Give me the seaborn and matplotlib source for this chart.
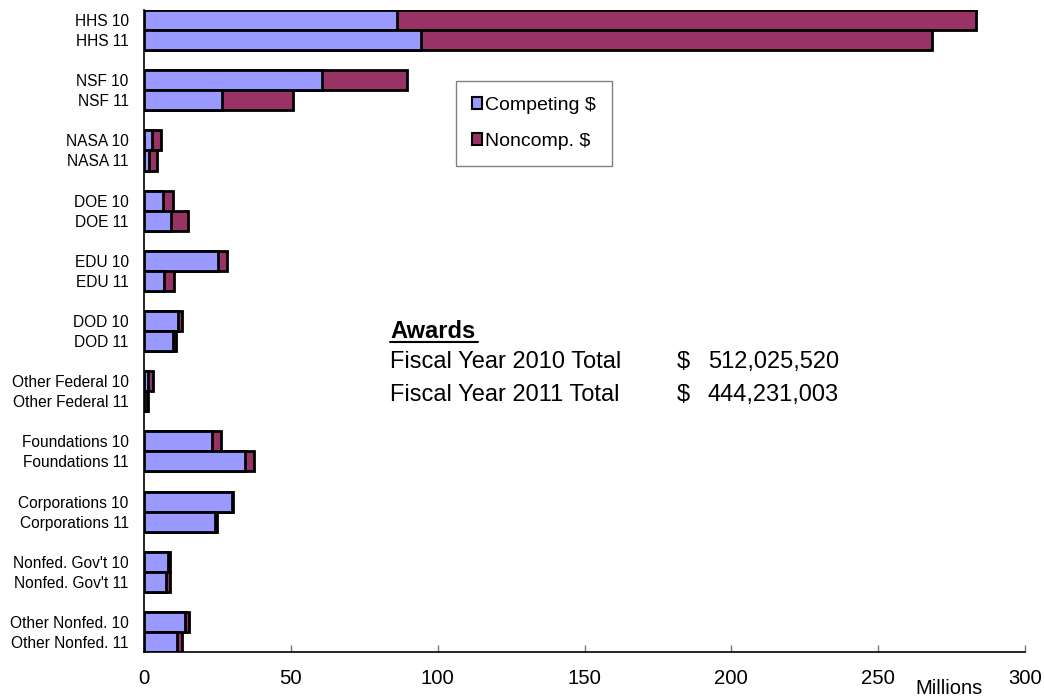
import pandas as pd
import matplotlib
matplotlib.use("Agg")
import matplotlib.pyplot as plt
from matplotlib.lines import Line2D
from matplotlib.patches import Patch
import seaborn as sns

# award values, millions of dollars
labels = ["HHS 10", "HHS 11", "NSF 10", "NSF 11", "NASA 10", "NASA 11",
          "DOE 10", "DOE 11", "EDU 10", "EDU 11", "DOD 10", "DOD 11",
          "Other Federal 10", "Other Federal 11", "Foundations 10", "Foundations 11",
          "Corporations 10", "Corporations 11", "Nonfed. Gov't 10", "Nonfed. Gov't 11",
          "Other Nonfed. 10", "Other Nonfed. 11"]
competing = [86.2, 94.3, 60.5, 26.7, 2.8, 1.7, 6.4, 9.2, 25.1, 6.9, 11.7, 10.0,
             1.5, 0.9, 23.3, 34.4, 29.9, 24.2, 8.3, 7.6, 14.0, 11.1]
noncomp = [197.2, 174.1, 28.9, 24.2, 2.9, 2.6, 3.6, 5.7, 3.1, 3.3, 1.4, 0.9,
           1.4, 0.6, 2.9, 3.2, 0.4, 0.5, 0.7, 1.4, 1.4, 2.0]
x_ticks = [0, 50, 100, 150, 200, 250, 300]

blue = "#9999FF"
maroon = "#993366"

df = pd.DataFrame({"label": labels, "competing": competing, "noncomp": noncomp})
df["total"] = df["competing"] + df["noncomp"]
# two bars per agency, then a gap
df["pos"] = [3 * (i // 2) + i % 2 for i in range(len(df))]

sns.set_theme(style="white")
plt.rcParams["font.family"] = ["Liberation Sans", "DejaVu Sans"]
plt.rcParams["text.color"] = "black"
plt.rcParams["xtick.color"] = "black"
plt.rcParams["ytick.color"] = "black"

fig = plt.figure(figsize=(10.44, 7), dpi=100)
ax = fig.add_axes([144 / 1044, 1 - 652 / 700, (1025 - 144) / 1044, 642 / 700])

sns.barplot(data=df, x="total", y="pos", orient="h", native_scale=True, width=1,
            color=maroon, saturation=1, edgecolor="black", linewidth=2,
            errorbar=None, ax=ax)
sns.barplot(data=df, x="competing", y="pos", orient="h", native_scale=True, width=1,
            color=blue, saturation=1, edgecolor="black", linewidth=2,
            errorbar=None, ax=ax)

ax.set_ylim(df["pos"].max() + 0.5, -0.5)
ax.set_xlim(0, 300)
ax.set_yticks(df["pos"], df["label"], fontsize=11.2)
ax.set_xticks(x_ticks, [str(t) for t in x_ticks], fontsize=14.6)
ax.tick_params(axis="y", left=False, length=0, pad=11, labelcolor="black")
ax.tick_params(axis="x", bottom=True, direction="in", length=5, width=1, color="#777777",
               pad=12, labelcolor="black")
ax.set_xlabel("")
ax.set_ylabel("")
for s in ["top", "right"]:
    ax.spines[s].set_visible(False)
for s in ["left", "bottom"]:
    ax.spines[s].set_color("black")
    ax.spines[s].set_linewidth(1.2)

fig.text(949 / 1044, 1 - 688 / 700, "Millions", fontsize=14.5, ha="center", va="center")

handles = [Patch(facecolor=blue, edgecolor="black", linewidth=1.5, label="Competing $"),
           Patch(facecolor=maroon, edgecolor="black", linewidth=1.5, label="Noncomp. $")]
leg = ax.legend(handles=handles, loc="upper left",
                bbox_to_anchor=(456 / 1044, 1 - 81 / 700), bbox_transform=fig.transFigure,
                borderaxespad=0, fontsize=14, handlelength=0.55, handleheight=0.55,
                handletextpad=0.15, labelspacing=1.0, borderpad=0.8,
                fancybox=False, framealpha=1)
leg.get_frame().set_edgecolor("#808080")
leg.get_frame().set_linewidth(1.0)
for t in leg.get_texts():
    t.set_color("black")

fig.text(390 / 1044, 1 - 331 / 700, "Awards", fontsize=17, fontweight="bold",
         ha="left", va="center")
fig.add_artist(Line2D([390 / 1044, 478 / 1044], [1 - 342 / 700, 1 - 342 / 700],
                      color="black", linewidth=1.5))
rows = [("Fiscal Year 2010 Total", "512,025,520", 362),
        ("Fiscal Year 2011 Total", "444,231,003", 395)]
for name, amount, y in rows:
    fig.text(390 / 1044, 1 - y / 700, name, fontsize=17, ha="left", va="center")
    fig.text(677 / 1044, 1 - y / 700, "$", fontsize=17, ha="left", va="center")
    fig.text(708 / 1044, 1 - y / 700, amount, fontsize=17, ha="left", va="center")

fig.savefig("out.png", dpi=100)
